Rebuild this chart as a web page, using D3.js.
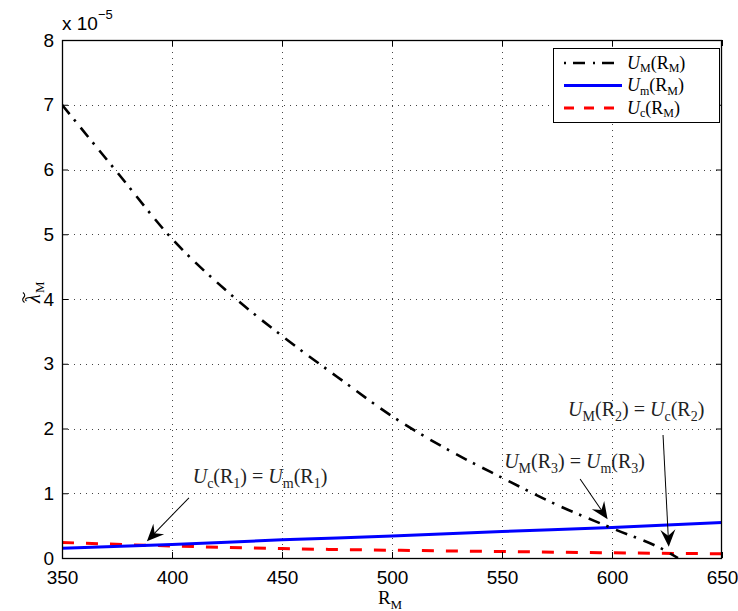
<!DOCTYPE html>
<html>
<head>
<meta charset="utf-8">
<script src="https://cdn.jsdelivr.net/npm/d3@7/dist/d3.min.js"></script>
<style>
  html, body { margin: 0; padding: 0; background: #fff; }
  svg { display: block; }
</style>
</head>
<body>
<script>
// ---- data (lambda values in units of 1e-5) ----
const xTicks = [350, 400, 450, 500, 550, 600, 650];
const yTicks = [0, 1, 2, 3, 4, 5, 6, 7, 8];

const uMaxR = [350, 375, 400, 425, 450, 475, 500, 525, 550, 575, 600, 625, 630];
const uMaxV = [7.0, 5.96, 4.93, 4.12, 3.43, 2.8, 2.19, 1.68, 1.24, 0.82, 0.46, 0.1, 0.0];

const uMinR = [350, 400, 450, 500, 550, 600, 650];
const uMinV = [0.15, 0.21, 0.28, 0.34, 0.41, 0.47, 0.55];

const uCovR = [350, 400, 450, 500, 550, 600, 650];
const uCovV = [0.24, 0.185, 0.145, 0.12, 0.1, 0.08, 0.065];

// annotation arrows: text anchor and arrow tail/tip, in data units
const notes = [
  { parts: [["U","i"],["c","s"],["(R",""],["1","s"],[") = ",""],["U","i"],["m","s"],["(R",""],["1","s"],[")",""]],
    tx: 440, ty: 1.16, from: [407.7, 0.93], to: [388.6, 0.26] },
  { parts: [["U","i"],["M","s"],["(R",""],["3","s"],[") = ",""],["U","i"],["m","s"],["(R",""],["3","s"],[")",""]],
    tx: 583, ty: 1.39, from: [585.5, 1.22], to: [598, 0.6] },
  { parts: [["U","i"],["M","s"],["(R",""],["2","s"],[") = ",""],["U","i"],["c","s"],["(R",""],["2","s"],[")",""]],
    tx: 611, ty: 2.2, from: [623.2, 1.9], to: [625.8, 0.175] }
];

// ---- layout ----
const W = 738, H = 611;
const L = 62, R = 722, T = 40, B = 558;
const sansFont = "'Liberation Sans', Arial, Helvetica, sans-serif";
const serifFont = "'Liberation Serif', 'Times New Roman', serif";

const svg = d3.select("body").append("svg")
  .attr("width", W).attr("height", H)
  .attr("viewBox", `0 0 ${W} ${H}`);

svg.append("rect").attr("width", W).attr("height", H).attr("fill", "#fff");

const x = d3.scaleLinear().domain([350, 650]).range([L, R]);
const y = d3.scaleLinear().domain([0, 8]).range([B, T]);

svg.append("defs").append("clipPath").attr("id", "plotclip")
  .append("rect").attr("x", L).attr("y", T).attr("width", R - L).attr("height", B - T);

// ---- grid ----
const grid = svg.append("g").attr("stroke", "#444").attr("stroke-width", 1)
  .attr("stroke-dasharray", "1,5");
grid.selectAll("line.gx").data(xTicks.slice(1, -1)).join("line")
  .attr("x1", d => x(d) + 0.5).attr("x2", d => x(d) + 0.5)
  .attr("y1", T).attr("y2", B);
grid.selectAll("line.gy").data(yTicks.slice(1, -1)).join("line")
  .attr("y1", d => Math.round(y(d)) + 0.5).attr("y2", d => Math.round(y(d)) + 0.5)
  .attr("x1", L).attr("x2", R);

// ---- series ----
const plot = svg.append("g").attr("clip-path", "url(#plotclip)");
const lineGen = d3.line().x(d => x(d[0])).y(d => y(d[1])).curve(d3.curveMonotoneX);

plot.append("path").datum(d3.zip(uCovR, uCovV))
  .attr("d", lineGen).attr("fill", "none")
  .attr("stroke", "#ff0000").attr("stroke-width", 3).attr("stroke-dasharray", "12,12");
plot.append("path").datum(d3.zip(uMinR, uMinV))
  .attr("d", lineGen).attr("fill", "none")
  .attr("stroke", "#0000ff").attr("stroke-width", 3);
plot.append("path").datum(d3.zip(uMaxR, uMaxV))
  .attr("d", lineGen).attr("fill", "none")
  .attr("stroke", "#000").attr("stroke-width", 2.6).attr("stroke-dasharray", "12,7,2.5,8");

// ---- axes (box with inward ticks) ----
function styleAxis(g, labels) {
  g.select(".domain").remove();
  g.selectAll(".tick line").attr("stroke", "#000").attr("stroke-width", 1);
  g.selectAll(".tick text").attr("font-family", sansFont).attr("font-size", 19).attr("fill", "#000");
  if (!labels) g.selectAll(".tick text").remove();
}
svg.append("g").attr("transform", `translate(0,${B})`)
  .call(d3.axisBottom(x).tickValues(xTicks).tickSize(-6).tickPadding(13).tickFormat(d3.format("d")))
  .call(g => styleAxis(g, true));
svg.append("g").attr("transform", `translate(0,${T})`)
  .call(d3.axisTop(x).tickValues(xTicks).tickSize(-6))
  .call(g => styleAxis(g, false));
svg.append("g").attr("transform", `translate(${L},0)`)
  .call(d3.axisLeft(y).tickValues(yTicks).tickSize(-6).tickPadding(8).tickFormat(d3.format("d")))
  .call(g => styleAxis(g, true));
svg.append("g").attr("transform", `translate(${R},0)`)
  .call(d3.axisRight(y).tickValues(yTicks).tickSize(-6))
  .call(g => styleAxis(g, false));

svg.append("rect").attr("x", L + 0.5).attr("y", T + 0.5)
  .attr("width", R - L - 1).attr("height", B - T)
  .attr("fill", "none").attr("stroke", "#000").attr("stroke-width", 1.3);

// exponent marker
const expo = svg.append("text").attr("x", L).attr("y", 30)
  .attr("font-family", sansFont).attr("font-size", 19).attr("fill", "#000");
expo.append("tspan").text("x 10");
expo.append("tspan").attr("font-size", 13).attr("dy", -11).text("\u22125");

// ---- math-style text helper ----
function mathText(sel, parts, size, subSize, drop) {
  const sub = subSize || Math.round(size * 0.7);
  const shift = drop || size * 0.25;
  let shifted = false;
  parts.forEach(([t, kind]) => {
    const ts = sel.append("tspan").text(t).style("white-space", "pre");
    if (kind === "i") ts.attr("font-style", "italic");
    if (kind === "s") {
      ts.attr("font-size", sub);
      if (!shifted) { ts.attr("dy", shift); shifted = true; }
    } else {
      ts.attr("font-size", size);
      if (shifted) { ts.attr("dy", -shift); shifted = false; }
    }
  });
  return sel;
}

// axis titles
const xl = svg.append("text").attr("x", 390).attr("y", 604)
  .attr("text-anchor", "middle").attr("font-family", serifFont).attr("fill", "#000");
mathText(xl, [["R", ""], ["M", "s"]], 19);

const yl = svg.append("g").attr("transform", "translate(40,303) rotate(-90)");
yl.append("text").attr("x", 0).attr("y", 0)
  .attr("font-family", serifFont).attr("font-size", 20).attr("font-style", "italic").text("\u03bb");
// tilde accent over lambda
yl.append("path").attr("d", "M0.5,-15.5 q2.5,-3.2 5,-0.8 t5,-0.8")
  .attr("fill", "none").attr("stroke", "#000").attr("stroke-width", 1.1);
yl.append("text").attr("x", 10).attr("y", 4)
  .attr("font-family", serifFont).attr("font-size", 13).text("M");

// ---- legend ----
const leg = svg.append("g");
leg.append("rect").attr("x", 553.5).attr("y", 48.5).attr("width", 166).attr("height", 74)
  .attr("fill", "#fff").attr("stroke", "#000").attr("stroke-width", 1);
const legItems = [
  { color: "#000", dash: "2,7,12,8", w: 2.6, sub: "M" },
  { color: "#0000ff", dash: null, w: 3, sub: "m" },
  { color: "#ff0000", dash: "10,10", w: 3, sub: "c" }
];
legItems.forEach((it, i) => {
  const yy = 63 + i * 22.5;
  leg.append("line").attr("x1", 564).attr("x2", 622).attr("y1", yy).attr("y2", yy)
    .attr("stroke", it.color).attr("stroke-width", it.w)
    .attr("stroke-dasharray", it.dash);
  const t = leg.append("text").attr("x", 627).attr("y", yy + 5.5)
    .attr("font-family", serifFont).attr("fill", "#000");
  mathText(t, [["U", "i"], [it.sub, "s"], ["(R", ""], ["M", "s"], [")", ""]], 18, 12, 3.5);
});

// ---- annotations ----
const ann = svg.append("g");
notes.forEach(n => {
  const t = ann.append("text").attr("x", x(n.tx)).attr("y", y(n.ty))
    .attr("text-anchor", "middle").attr("font-family", serifFont).attr("fill", "#222");
  mathText(t, n.parts, 20);

  const x0 = x(n.from[0]), y0 = y(n.from[1]);
  const x1 = x(n.to[0]), y1 = y(n.to[1]);
  const ang = Math.atan2(y1 - y0, x1 - x0);
  const len = Math.hypot(x1 - x0, y1 - y0);
  const g = ann.append("g")
    .attr("transform", `translate(${x0},${y0}) rotate(${ang * 180 / Math.PI})`);
  g.append("line").attr("x1", 0).attr("y1", 0).attr("x2", len - 8).attr("y2", 0)
    .attr("stroke", "#000").attr("stroke-width", 1);
  g.append("path")
    .attr("d", `M${len},0 L${len - 17},-7.5 L${len - 11},0 L${len - 17},7.5 Z`)
    .attr("fill", "#000");
});
</script>
</body>
</html>
